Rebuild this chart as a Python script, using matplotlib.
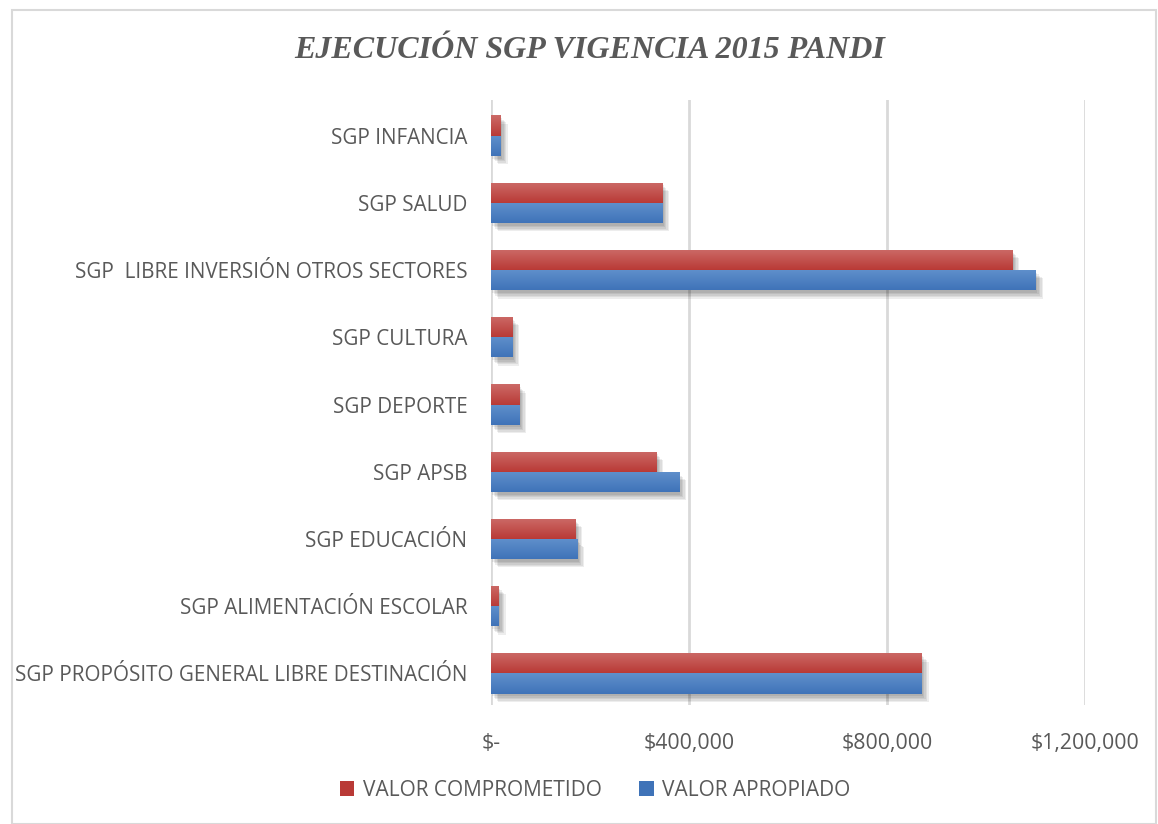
import numpy as np
import matplotlib.pyplot as plt
import matplotlib.patheffects as pe
from matplotlib.patches import Patch, Rectangle
from matplotlib.colors import LinearSegmentedColormap
from matplotlib.ticker import FuncFormatter

categorias = [
    "SGP PROPÓSITO GENERAL LIBRE DESTINACIÓN",
    "SGP ALIMENTACIÓN ESCOLAR",
    "SGP EDUCACIÓN",
    "SGP APSB",
    "SGP DEPORTE",
    "SGP CULTURA",
    "SGP  LIBRE INVERSIÓN OTROS SECTORES",
    "SGP SALUD",
    "SGP INFANCIA",
]
valor_comprometido = [870000, 16000, 170000, 334000, 57000, 43000, 1053000, 346000, 20000]
valor_apropiado = [870000, 16000, 174000, 380000, 57000, 43000, 1101000, 346000, 20000]
xticks = [0, 400000, 800000, 1200000]

gris = "#595959"
rojo = ("#cc6a67", "#b93a36")
azul = ("#6090cc", "#3f73b8")

fig = plt.figure(figsize=(11.58, 8.24), dpi=100)
ax = fig.add_axes([491 / 1158, 1 - 705 / 824, (1085 - 491) / 1158, 605 / 824])

y = np.arange(len(categorias))
h = 0.3

# soft shadow: several faint offset copies
sombra = [pe.SimplePatchShadow(offset=(d, -d - 1), alpha=0.07, shadow_rgbFace="black")
          for d in (1, 2, 3, 4, 5)]


def gradient_bars(vals, offset, colors):
    bars = ax.barh(y + offset, vals, height=h, color=colors[1], zorder=3,
                   path_effects=sombra + [pe.Normal()])
    grad = np.linspace(0, 1, 64).reshape(-1, 1)
    cmap = LinearSegmentedColormap.from_list("g", [colors[1], colors[0]])
    for b in bars:
        x0, y0 = b.get_x(), b.get_y()
        im = ax.imshow(grad, cmap=cmap, aspect="auto", origin="lower",
                       extent=[x0, x0 + b.get_width(), y0, y0 + b.get_height()], zorder=4)
        im.set_clip_path(b)
    return bars


gradient_bars(valor_comprometido, h / 2, rojo)
gradient_bars(valor_apropiado, -h / 2, azul)

ax.set_xlim(0, 1200000)
ax.set_ylim(-0.47, len(categorias) - 0.47)
ax.set_yticks(y)
ax.set_yticklabels(categorias, fontsize=14.9, color=gris, fontfamily="Open Sans")
ax.set_xticks(xticks)
ax.xaxis.set_major_formatter(FuncFormatter(lambda v, p: "$-" if v == 0 else f"${v:,.0f}"))
for lab in ax.get_xticklabels():
    lab.set_fontfamily("Open Sans")
ax.tick_params(axis="x", labelsize=15.3, colors=gris, length=0, pad=20)
ax.tick_params(axis="y", length=0, pad=17)
ax.grid(axis="x", color="#d9d9d9", linewidth=2, zorder=0)
for s in ax.spines.values():
    s.set_visible(False)

fig.text(590 / 1158, 1 - 51 / 824, "EJECUCIÓN SGP VIGENCIA 2015 PANDI", ha="center", va="center",
         fontsize=23, fontweight="bold", fontstyle="italic", family="Liberation Serif", color=gris)

fig.patches.append(Rectangle((12 / 1158, 0), 1 - 12 / 1158 - 2 / 1158, 1 - 10 / 824,
                             transform=fig.transFigure, fill=False, edgecolor="#d9d9d9", linewidth=1.5))

handles = [Patch(facecolor=rojo[1], label="VALOR COMPROMETIDO"),
           Patch(facecolor=azul[1], label="VALOR APROPIADO")]
fig.legend(handles=handles, loc="center", bbox_to_anchor=(595 / 1158, 1 - 790 / 824), ncol=2,
           frameon=False, prop={"family": "Open Sans", "size": 15}, labelcolor=gris,
           handlelength=0.7, handleheight=0.7, handletextpad=0.4, columnspacing=1.8)

fig.savefig("out.png", dpi=100)
